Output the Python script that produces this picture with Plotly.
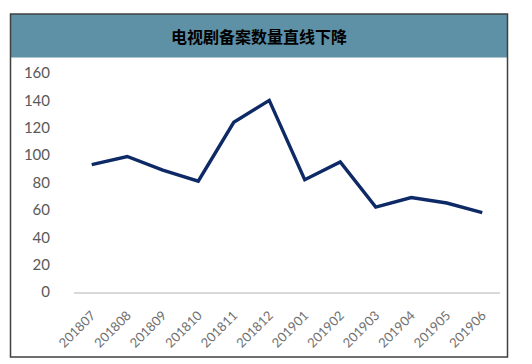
import plotly.graph_objects as go

months = ["201807", "201808", "201809", "201810", "201811", "201812",
          "201901", "201902", "201903", "201904", "201905", "201906"]
counts = [93, 99, 89, 81, 124, 140, 82, 95, 62, 69, 65, 58]
y_ticks = [0, 20, 40, 60, 80, 100, 120, 140, 160]
title_text = "电视剧备案数量直线下降"

W, H = 532, 364
L, R, T, B = 74, 500, 73, 292  # plot area in pixels


def px(x):
    return (x - L) / (R - L)


def py(y):
    return (B - y) / (B - T)


fig = go.Figure()
fig.add_trace(go.Scatter(
    x=months, y=counts, mode="lines",
    line=dict(color="#0E2A66", width=3.4),
    hoverinfo="skip", showlegend=False,
))

shapes = [
    # header band
    dict(type="rect", xref="paper", yref="paper",
         x0=px(10.5), x1=px(507.5), y0=py(57.5), y1=py(14),
         fillcolor="#5E90A6", line=dict(width=0), layer="below"),
    # outer border
    dict(type="rect", xref="paper", yref="paper",
         x0=px(10.5), x1=px(507.5), y0=py(357), y1=py(14),
         fillcolor="rgba(0,0,0,0)", line=dict(color="#404040", width=1.5)),
]

fig.update_layout(
    width=W, height=H,
    margin=dict(l=L, r=W - R, t=T, b=H - B, pad=0, autoexpand=False),
    paper_bgcolor="white", plot_bgcolor="white",
    shapes=shapes,
    annotations=[dict(
        text="<b>" + title_text + "</b>", xref="paper", yref="paper",
        x=px(259), y=py(36), showarrow=False, xanchor="center", yanchor="middle",
        font=dict(family="Noto Sans CJK SC", size=16, color="#000000", weight=900),
    )],
    xaxis=dict(
        type="category", range=[-0.5, 11.5], showgrid=False, automargin=False,
        showline=True, linecolor="#D9D9D9", linewidth=1.5,
        tickangle=-45, ticks="outside", ticklen=9, tickcolor="rgba(0,0,0,0)",
        tickfont=dict(family="Lato, Open Sans, sans-serif", size=13, color="#707070"),
        fixedrange=True,
    ),
    yaxis=dict(
        range=[0, 160], tickvals=y_ticks, showgrid=False, zeroline=False,
        showline=False, ticks="outside", ticklen=20, tickcolor="rgba(0,0,0,0)",
        automargin=False,
        tickfont=dict(family="Lato, Open Sans, sans-serif", size=15, color="#595959"),
        fixedrange=True,
    ),
)

fig.write_html(
    "out.html",
    config={"displayModeBar": False},
    post_script="document.body.style.margin='0';document.body.style.overflow='hidden';",
)
